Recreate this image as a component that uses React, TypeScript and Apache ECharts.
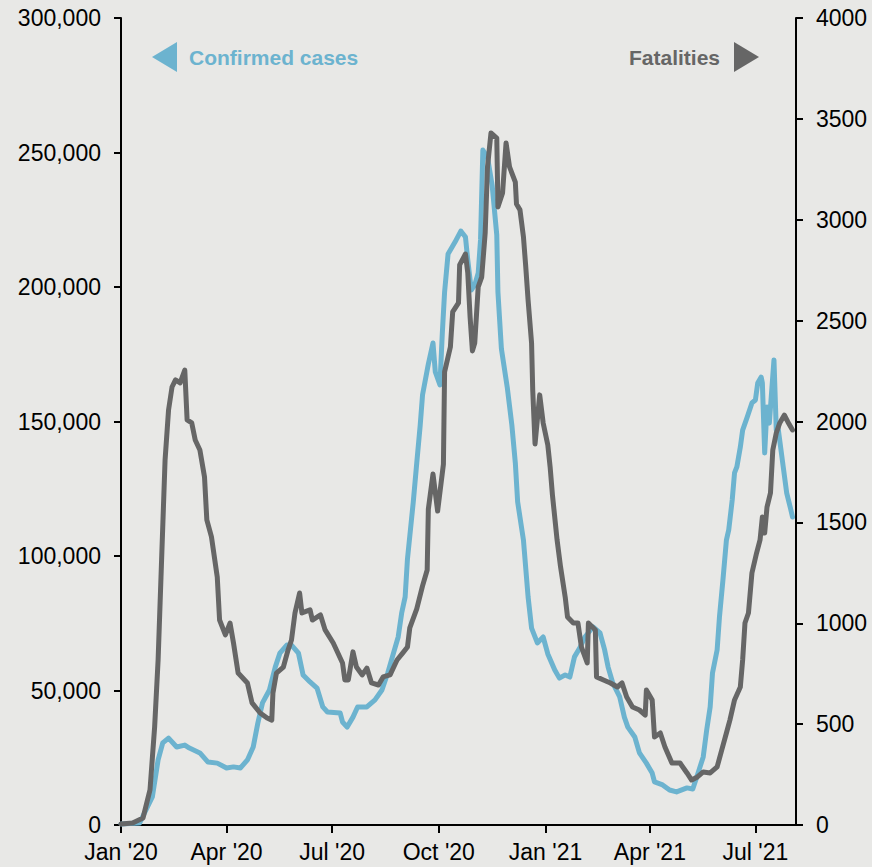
import React, { useEffect, useRef } from 'react';
import * as echarts from 'echarts';

// Confirmed cases (left axis)
const caseDates = [
  '2020-01-01', '2020-01-17', '2020-01-28', '2020-02-02', '2020-02-06', '2020-02-11', '2020-02-18', '2020-02-25', '2020-02-29',
  '2020-03-09', '2020-03-16', '2020-03-24', '2020-04-01', '2020-04-07', '2020-04-13', '2020-04-19', '2020-04-24', '2020-04-28',
  '2020-05-02', '2020-05-08', '2020-05-13', '2020-05-17', '2020-05-23', '2020-05-27', '2020-06-02', '2020-06-06', '2020-06-12',
  '2020-06-18', '2020-06-23', '2020-06-27', '2020-07-08', '2020-07-10', '2020-07-14', '2020-07-19', '2020-07-23', '2020-07-31',
  '2020-08-07', '2020-08-13', '2020-08-18', '2020-08-22', '2020-08-27', '2020-08-30', '2020-09-02', '2020-09-04', '2020-09-09',
  '2020-09-12', '2020-09-15', '2020-09-17', '2020-09-22', '2020-09-26', '2020-09-28', '2020-10-02', '2020-10-04', '2020-10-06',
  '2020-10-09', '2020-10-15', '2020-10-20', '2020-10-24', '2020-10-26', '2020-10-29', '2020-11-01', '2020-11-04', '2020-11-06',
  '2020-11-08', '2020-11-12', '2020-11-16', '2020-11-20', '2020-11-21', '2020-11-24', '2020-11-29', '2020-12-03', '2020-12-06',
  '2020-12-08', '2020-12-13', '2020-12-17', '2020-12-20', '2020-12-25', '2020-12-30', '2021-01-03', '2021-01-09', '2021-01-13',
  '2021-01-18', '2021-01-22', '2021-01-26', '2021-01-31', '2021-02-04', '2021-02-11', '2021-02-17', '2021-02-21', '2021-02-24',
  '2021-02-28', '2021-03-06', '2021-03-10', '2021-03-13', '2021-03-19', '2021-03-23', '2021-03-29', '2021-04-03', '2021-04-05',
  '2021-04-12', '2021-04-18', '2021-04-24', '2021-05-03', '2021-05-08', '2021-05-12', '2021-05-17', '2021-05-20', '2021-05-23',
  '2021-05-25', '2021-05-29', '2021-05-31', '2021-06-03', '2021-06-06', '2021-06-08', '2021-06-11', '2021-06-13', '2021-06-15',
  '2021-06-18', '2021-06-20', '2021-06-24', '2021-06-28', '2021-07-01', '2021-07-03', '2021-07-06', '2021-07-07', '2021-07-09',
  '2021-07-11', '2021-07-13', '2021-07-17', '2021-07-19', '2021-07-20', '2021-07-25', '2021-07-28', '2021-07-31', '2021-08-02',
];
const caseValues = [
  400, 700, 10400, 24200, 30500, 32300, 29000, 29700, 28600,
  26800, 23400, 23000, 21200, 21600, 21200, 24200, 29000, 37900,
  45400, 50200, 58700, 63900, 66900, 66900, 63900, 55800, 53200,
  50900, 43900, 42000, 41600, 38300, 36400, 40100, 43900, 43900,
  46500, 50200, 56500, 62500, 69900, 78800, 84800, 98900, 120100,
  134600, 148700, 159900, 171400, 179200, 168400, 163600, 182500, 198100,
  212300, 216700, 220800, 218600, 210000, 198900, 200700, 205200, 217500,
  250900, 248300, 237900, 219300, 198100, 177000, 162800, 148700, 134600,
  120100, 105900, 84800, 73200, 67700, 69900, 63600, 57600, 54600,
  55800, 55000, 62500, 66200, 69900, 73600, 71400, 65100, 58700,
  52800, 47600, 40100, 36400, 32700, 26800, 23000, 19300, 16000,
  14900, 13000, 12300, 13800, 13400, 18600, 25300, 35300, 43900,
  56500, 65100, 77300, 91100, 105900, 109700, 120800, 130900, 133100,
  140500, 146800, 151700, 156900, 158000, 164300, 166500, 164300, 138300,
  155400, 149400, 172900, 146800, 149400, 133100, 123400, 118200, 114500,
];

// Fatalities (right axis)
const fatalityDates = [
  '2020-01-01', '2020-01-11', '2020-01-20', '2020-01-26', '2020-01-30', '2020-02-02', '2020-02-05', '2020-02-08', '2020-02-11',
  '2020-02-14', '2020-02-17', '2020-02-21', '2020-02-25', '2020-02-27', '2020-03-02', '2020-03-05', '2020-03-09', '2020-03-13',
  '2020-03-15', '2020-03-19', '2020-03-24', '2020-03-26', '2020-03-31', '2020-04-04', '2020-04-07', '2020-04-11', '2020-04-19',
  '2020-04-23', '2020-04-30', '2020-05-06', '2020-05-10', '2020-05-11', '2020-05-14', '2020-05-20', '2020-05-24', '2020-05-27',
  '2020-05-30', '2020-06-03', '2020-06-05', '2020-06-12', '2020-06-14', '2020-06-21', '2020-06-25', '2020-07-02', '2020-07-10',
  '2020-07-12', '2020-07-15', '2020-07-19', '2020-07-22', '2020-07-27', '2020-07-31', '2020-08-04', '2020-08-10', '2020-08-14',
  '2020-08-20', '2020-08-26', '2020-08-31', '2020-09-04', '2020-09-06', '2020-09-12', '2020-09-17', '2020-09-21', '2020-09-22',
  '2020-09-26', '2020-09-30', '2020-10-05', '2020-10-06', '2020-10-11', '2020-10-13', '2020-10-18', '2020-10-19', '2020-10-24',
  '2020-10-26', '2020-10-28', '2020-10-30', '2020-11-01', '2020-11-04', '2020-11-07', '2020-11-10', '2020-11-12', '2020-11-15',
  '2020-11-20', '2020-11-21', '2020-11-25', '2020-11-28', '2020-12-01', '2020-12-06', '2020-12-07', '2020-12-10', '2020-12-13',
  '2020-12-15', '2020-12-17', '2020-12-20', '2020-12-21', '2020-12-23', '2020-12-27', '2020-12-30', '2021-01-03', '2021-01-05',
  '2021-01-07', '2021-01-11', '2021-01-14', '2021-01-18', '2021-01-20', '2021-01-25', '2021-01-29', '2021-02-01', '2021-02-06',
  '2021-02-07', '2021-02-13', '2021-02-14', '2021-02-20', '2021-02-26', '2021-03-04', '2021-03-08', '2021-03-12', '2021-03-17',
  '2021-03-23', '2021-03-28', '2021-03-29', '2021-04-03', '2021-04-05', '2021-04-10', '2021-04-14', '2021-04-20', '2021-04-27',
  '2021-05-03', '2021-05-07', '2021-05-12', '2021-05-17', '2021-05-23', '2021-05-29', '2021-06-02', '2021-06-06', '2021-06-09',
  '2021-06-13', '2021-06-18', '2021-06-20', '2021-06-22', '2021-06-25', '2021-06-28', '2021-07-02', '2021-07-05', '2021-07-07',
  '2021-07-09', '2021-07-11', '2021-07-14', '2021-07-16', '2021-07-19', '2021-07-22', '2021-07-26', '2021-07-29', '2021-08-02',
];
const fatalityValues = [
  5, 10, 35, 174, 486, 818, 1314, 1809, 2057,
  2171, 2206, 2191, 2255, 2008, 1993, 1908, 1859, 1725,
  1512, 1428, 1229, 1016, 942, 1001, 902, 753, 704,
  605, 555, 530, 520, 654, 753, 783, 867, 917,
  1051, 1150, 1051, 1066, 1016, 1041, 967, 902, 803,
  719, 719, 858, 783, 744, 778, 704, 694, 734,
  744, 818, 853, 882, 977, 1071, 1185, 1264, 1566,
  1740, 1556, 1789, 2246, 2369, 2543, 2588, 2776, 2830,
  2736, 2518, 2350, 2389, 2667, 2716, 2934, 3262, 3430,
  3405, 3063, 3133, 3381, 3262, 3187, 3078, 3049, 2915,
  2766, 2602, 2389, 2156, 1889, 2132, 1993, 1884, 1775,
  1636, 1413, 1279, 1130, 1031, 1001, 1001, 882, 803,
  1001, 967, 734, 719, 704, 684, 704, 634, 585,
  570, 545, 669, 620, 436, 456, 387, 307, 307,
  258, 223, 238, 263, 258, 288, 372, 456, 520,
  620, 684, 818, 1001, 1051, 1249, 1348, 1413, 1527,
  1447, 1576, 1646, 1859, 1943, 1993, 2032, 1998, 1958,
];

const xTickDates = ['2020-01-01', '2020-04-01', '2020-07-01', '2020-10-01', '2021-01-01', '2021-04-01', '2021-07-01'];
const xRange = ['2020-01-01', '2021-08-05'];
const monthNames = ['Jan', 'Feb', 'Mar', 'Apr', 'May', 'Jun', 'Jul', 'Aug', 'Sep', 'Oct', 'Nov', 'Dec'];
const casesAxis = { min: 0, max: 300000, interval: 50000 };
const fatalAxis = { min: 0, max: 4000, interval: 500 };
const legendLabels = { cases: 'Confirmed cases', fatalities: 'Fatalities' };

const BLUE = '#6cb3cf';
const GRAY = '#666666';
const FONT = '"Liberation Sans", Arial, sans-serif';

function toTime(s: string): number {
  const [y, m, d] = s.split('-').map(Number);
  return Date.UTC(y, m - 1, d);
}

export default function App() {
  const ref = useRef<HTMLDivElement>(null);
  useEffect(() => {
    if (!ref.current) return;
    const chart = echarts.init(ref.current, null, { renderer: 'svg' });
    const tickTimes = xTickDates.map(toTime);
    const axisCommon = {
      axisLine: { show: true, lineStyle: { color: '#000', width: 2 } },
      axisTick: { show: true, length: 7, lineStyle: { color: '#000', width: 2 } },
      splitLine: { show: false },
    };
    chart.setOption({
      animation: false,
      backgroundColor: '#e8e8e6',
      grid: { left: 121, right: 76, top: 18, bottom: 42, containLabel: false },
      xAxis: {
        type: 'value',
        min: toTime(xRange[0]),
        max: toTime(xRange[1]),
        ...axisCommon,
        axisTick: { show: true, length: 8, customValues: tickTimes, lineStyle: { color: '#000', width: 2 } },
        axisLabel: {
          customValues: tickTimes,
          formatter: (v: number) => {
            const d = new Date(v);
            return monthNames[d.getUTCMonth()] + " '" + String(d.getUTCFullYear()).slice(2);
          },
          fontSize: 23,
          fontFamily: FONT,
          color: '#000',
          margin: 15,
        },
      },
      yAxis: [
        {
          type: 'value',
          position: 'left',
          ...casesAxis,
          ...axisCommon,
          axisLabel: {
            formatter: (v: number) => v.toLocaleString('en-US'),
            fontSize: 23,
            fontFamily: FONT,
            color: '#000',
            margin: 20,
          },
        },
        {
          type: 'value',
          position: 'right',
          ...fatalAxis,
          ...axisCommon,
          axisLabel: {
            formatter: (v: number) => String(v),
            fontSize: 23,
            fontFamily: FONT,
            color: '#000',
            margin: 20,
          },
        },
      ],
      series: [
        {
          name: legendLabels.cases,
          type: 'line',
          yAxisIndex: 0,
          showSymbol: false,
          symbol: 'none',
          data: caseDates.map((d, i) => [toTime(d), caseValues[i]]),
          lineStyle: { color: BLUE, width: 5, join: 'round', cap: 'round' },
          itemStyle: { color: BLUE },
          z: 2,
        },
        {
          name: legendLabels.fatalities,
          type: 'line',
          yAxisIndex: 1,
          showSymbol: false,
          symbol: 'none',
          data: fatalityDates.map((d, i) => [toTime(d), fatalityValues[i]]),
          lineStyle: { color: GRAY, width: 5, join: 'round', cap: 'round' },
          itemStyle: { color: GRAY },
          z: 3,
        },
      ],
      graphic: [
        { type: 'polygon', shape: { points: [[152, 57], [177, 42], [177, 72]] }, style: { fill: BLUE } },
        {
          type: 'text', x: 189, y: 57,
          style: { text: legendLabels.cases, fill: BLUE, font: `bold 21px ${FONT}`, verticalAlign: 'middle' },
        },
        {
          type: 'text', x: 720, y: 57,
          style: { text: legendLabels.fatalities, fill: GRAY, font: `bold 21px ${FONT}`, align: 'right', verticalAlign: 'middle' },
        },
        { type: 'polygon', shape: { points: [[734, 42], [759, 57], [734, 72]] }, style: { fill: GRAY } },
      ],
    });
    return () => chart.dispose();
  }, []);
  return (
    <div
      ref={ref}
      style={{ position: 'absolute', left: 0, top: 0, width: 872, height: 867, background: '#e8e8e6' }}
    />
  );
}
